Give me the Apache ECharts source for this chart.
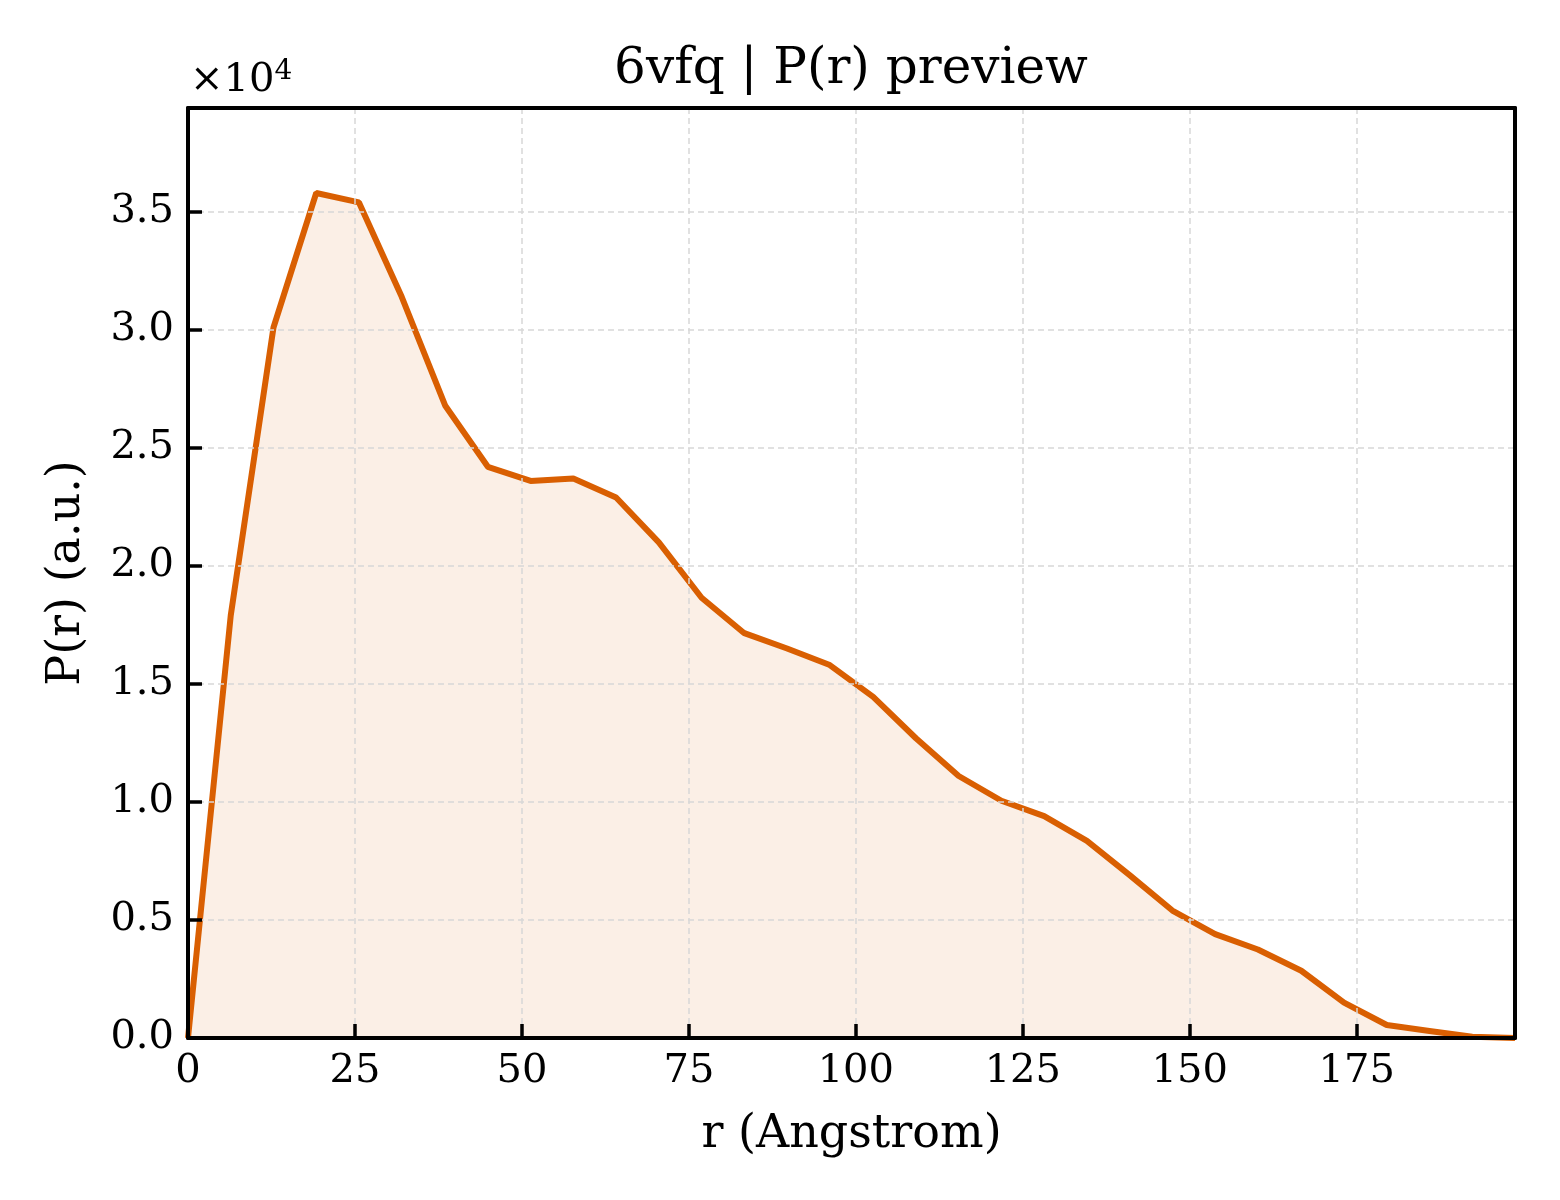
<!DOCTYPE html>
<html>
<head>
<meta charset="utf-8">
<script src="https://cdn.jsdelivr.net/npm/echarts@6/dist/echarts.min.js"></script>
<style>
  html, body { margin: 0; padding: 0; background: #fff; }
  #chart { width: 1560px; height: 1200px; }
</style>
</head>
<body>
<div id="chart"></div>
<script>
// P(r) curve
var rValues = [0, 6.4, 12.8, 19.2, 25.6, 32.0, 38.5, 44.9, 51.3, 57.7, 64.1, 70.5,
  76.9, 83.3, 89.7, 96.1, 102.6, 109.0, 115.4, 121.8, 128.2, 134.6, 141.0, 147.4,
  153.8, 160.2, 166.7, 173.1, 179.5, 185.9, 192.3, 198.7];
var prValues = [0, 17900, 30100, 35800, 35400, 31400, 26800, 24200, 23600, 23700,
  22900, 21000, 18650, 17150, 16500, 15800, 14450, 12700, 11100, 10050, 9400,
  8350, 6900, 5400, 4400, 3750, 2850, 1500, 550, 300, 50, 0];
var xTicks = [0, 25, 50, 75, 100, 125, 150, 175];
var yTicks = [0, 5000, 10000, 15000, 20000, 25000, 30000, 35000];

!function(win){
    var font = 'DejaVu Serif';
    var chrt = echarts.init(document.getElementById('chart'));
    var points = rValues.map(function(r, i){ return [r, prValues[i]]; });
    var gridLine = { show: true, lineStyle: { color: '#d8d8d8', width: 1.5, type: [6, 4] } };
    var blackLine = { show: true, onZero: false, lineStyle: { color: '#000', width: 4 } };
    var tick = { inside: true, length: 14, lineStyle: { color: '#000', width: 3.5 } };
    // top / right frame, drawn as plain axes so it sits over the grid lines
    var frame = {
        type: 'value', axisLine: blackLine, axisTick: { show: false },
        axisLabel: { show: false }, splitLine: { show: false }, z: 10
    };

    var option = {
        animation: false,
        backgroundColor: '#fff',
        textStyle: { fontFamily: font },
        grid: { left: 188, right: 45, top: 108, bottom: 162, containLabel: false },
        title: {
            text: '6vfq | P(r) preview',
            left: 846, top: 40, textAlign: 'center',
            textStyle: { fontFamily: font, fontSize: 50, fontWeight: 'normal', color: '#000' }
        },
        graphic: [{
            type: 'text', left: 190, top: 58,
            style: {
                text: '×10{sup|4}',
                font: '40px "DejaVu Serif"',
                fill: '#000',
                rich: { sup: { fontSize: 28, verticalAlign: 'top', padding: [0, 0, 18, 0], fontFamily: font } }
            }
        }],
        xAxis: [{
            type: 'value', min: 0, max: 198.7, interval: 25,
            name: 'r (Angstrom)', nameLocation: 'middle', nameGap: 74,
            nameTextStyle: { fontFamily: font, fontSize: 46, color: '#000' },
            axisLine: blackLine,
            axisTick: tick,
            axisLabel: {
                margin: 14, fontSize: 40, color: '#000', fontFamily: font,
                formatter: function(v){ return xTicks.indexOf(v) >= 0 ? String(v) : ''; }
            },
            splitLine: gridLine,
            z: 10
        }, echarts.util.extend({ position: 'top', min: 0, max: 198.7 }, frame)],
        yAxis: [{
            type: 'value', min: 0, max: 39400, interval: 5000,
            name: 'P(r) (a.u.)', nameLocation: 'middle', nameGap: 98,
            nameTextStyle: { fontFamily: font, fontSize: 46, color: '#000' },
            axisLine: blackLine,
            axisTick: tick,
            axisLabel: {
                margin: 14, fontSize: 40, color: '#000', fontFamily: font,
                formatter: function(v){ return yTicks.indexOf(v) >= 0 ? (v / 10000).toFixed(1) : ''; }
            },
            splitLine: gridLine,
            z: 10
        }, echarts.util.extend({ position: 'right', min: 0, max: 39400 }, frame)],
        series: [{
            type: 'line',
            data: points,
            symbol: 'none',
            lineStyle: { color: '#d95f02', width: 6 },
            areaStyle: { color: 'rgba(217,95,2,0.14)' },
            z: 3
        }]
    };
    chrt.setOption(option);
}(window);
</script>
</body>
</html>
